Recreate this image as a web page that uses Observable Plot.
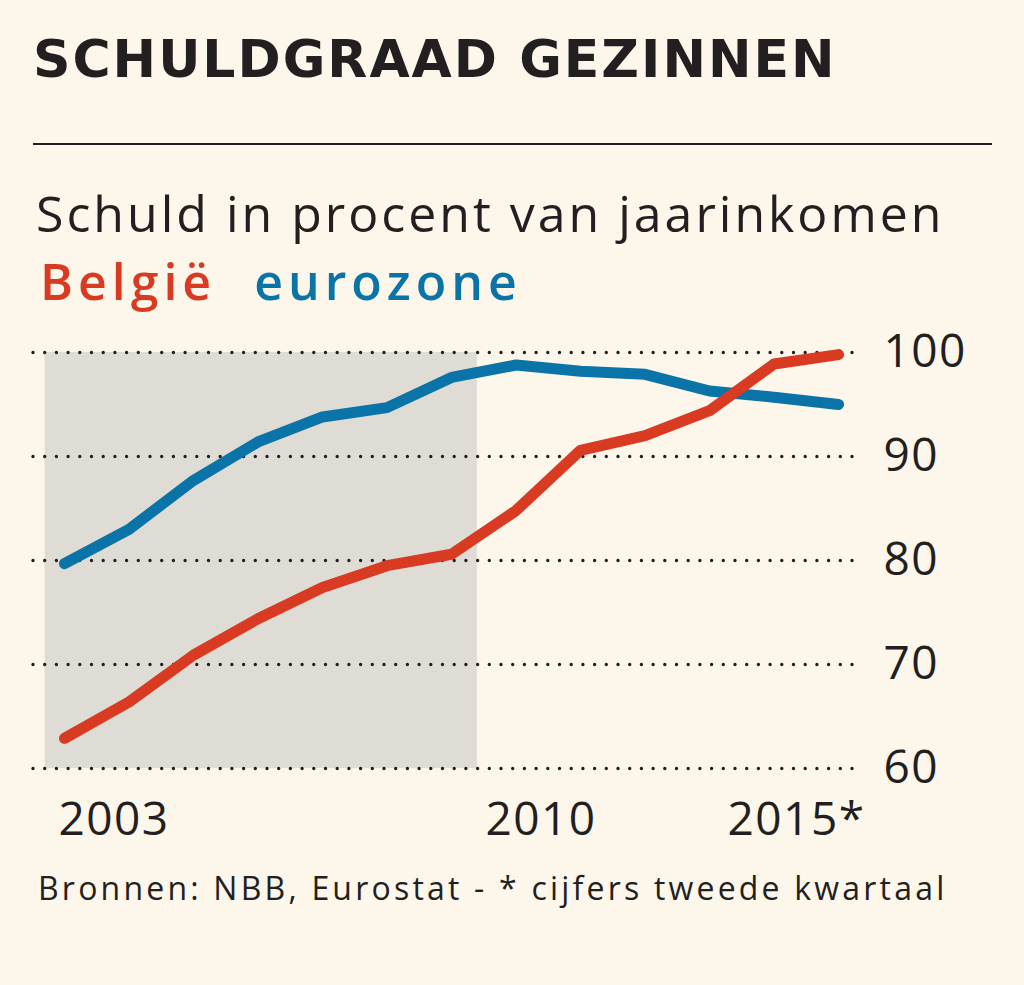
<!DOCTYPE html>
<html>
<head>
<meta charset="utf-8">
<script src="https://cdn.jsdelivr.net/npm/d3@7"></script>
<script src="https://cdn.jsdelivr.net/npm/@observablehq/plot@0.6"></script>
<style>
  html, body { margin: 0; padding: 0; }
  body { width: 1024px; height: 985px; background: #fdf6ea; position: relative; overflow: hidden; color: #231f20; }
  .abs { position: absolute; white-space: nowrap; }
  #title { left: 33px; top: 33px; font-family: "DejaVu Sans", sans-serif; font-weight: bold; font-size: 52px; line-height: 52px; letter-spacing: 2px; }
  #rule { left: 33px; top: 143px; width: 959px; height: 2px; background: #231f20; }
  #subtitle { left: 36px; top: 188px; font-family: "Open Sans", sans-serif; font-size: 50px; line-height: 50px; letter-spacing: 3px; }
  #legend { left: 40px; top: 256px; font-family: "Open Sans", sans-serif; font-size: 50px; line-height: 50px; font-weight: 600; letter-spacing: 5px; }
  #legend span { margin-right: 38px; }
  #chart { left: 0; top: 300px; }
  #caption { left: 38px; top: 872px; font-family: "Open Sans", sans-serif; font-size: 32px; line-height: 32px; letter-spacing: 3.2px; }
</style>
</head>
<body>
<div id="title" class="abs">SCHULDGRAAD GEZINNEN</div>
<div id="rule" class="abs"></div>
<div id="subtitle" class="abs">Schuld in procent van jaarinkomen</div>
<div id="legend" class="abs"><span style="color:#d93a22">België</span><span style="color:#0a74a8">eurozone</span></div>
<div id="chart" class="abs"></div>
<div id="caption" class="abs">Bronnen: NBB, Eurostat - * cijfers tweede kwartaal</div>
<script>
const years = [2003, 2004, 2005, 2006, 2007, 2008, 2009, 2010, 2011, 2012, 2013, 2014, 2015];
const belgie = [62.9, 66.4, 70.9, 74.4, 77.4, 79.5, 80.6, 84.8, 90.6, 92.0, 94.4, 98.9, 99.8];
const eurozone = [79.7, 83.0, 87.7, 91.4, 93.8, 94.7, 97.6, 98.8, 98.2, 97.9, 96.3, 95.7, 95.0];
const yTicks = [60, 70, 80, 90, 100];
const shadeStart = [2002.7];
const shadeEnd = [2009.4];

const RED = "#d93a22", BLUE = "#0a74a8", INK = "#231f20";

const beData = years.map((y, i) => ({year: y, value: belgie[i]}));
const ezData = years.map((y, i) => ({year: y, value: eurozone[i]}));
const shade = shadeStart.map((s, i) => ({x1: s, x2: shadeEnd[i]}));

const chart = Plot.plot({
  width: 1024,
  height: 558,
  marginLeft: 33,
  marginRight: 164,
  marginTop: 52,
  marginBottom: 90,
  style: {background: "transparent", fontFamily: "'Open Sans', sans-serif", color: INK, letterSpacing: "1.5px"},
  x: {domain: [2002.52, 2015.34], axis: null},
  y: {domain: [60, 100], axis: null},
  marks: [
    Plot.rectY(shade, {x1: "x1", x2: "x2", y1: 60, y2: 100, fill: "#dfdbd5"}),
    Plot.ruleY(yTicks, {stroke: INK, strokeWidth: 3.4, strokeDasharray: "0 11.7", strokeLinecap: "round"}),
    Plot.axisY(yTicks, {anchor: "right", label: null, tickSize: 0, tickPadding: 23, fontSize: 46, fill: INK, textAnchor: "start"}),
    Plot.line(ezData, {x: "year", y: "value", stroke: BLUE, strokeWidth: 11, strokeLinecap: "round", strokeLinejoin: "round"}),
    Plot.line(beData, {x: "year", y: "value", stroke: RED, strokeWidth: 11, strokeLinecap: "round", strokeLinejoin: "round"}),
    Plot.text([2003], {x: d => d, y: 60, text: d => String(d), dy: 52, dx: -6, textAnchor: "start", fontSize: 46, fill: INK}),
    Plot.text([2010], {x: d => d, y: 60, text: d => String(d), dy: 52, dx: 25, textAnchor: "middle", fontSize: 46, fill: INK}),
    Plot.text([2015], {x: d => d, y: 60, text: d => d + "*", dy: 52, dx: 27, textAnchor: "end", fontSize: 46, fill: INK})
  ]
});
document.getElementById("chart").appendChild(chart);
</script>
</body>
</html>
